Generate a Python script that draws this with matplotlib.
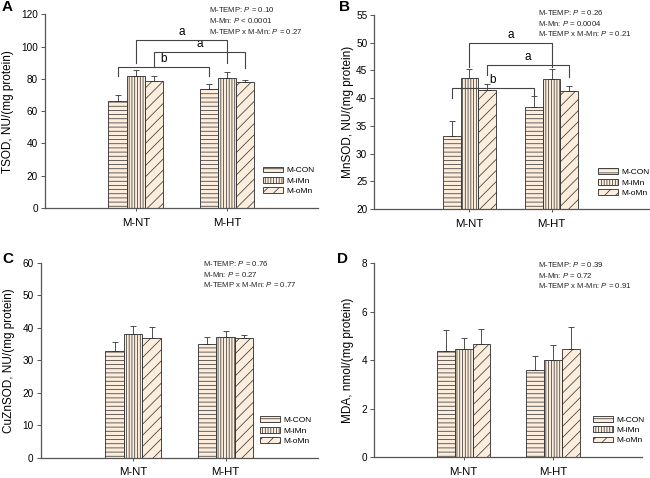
import matplotlib
matplotlib.use("Agg")
import matplotlib.pyplot as plt
from matplotlib import font_manager as fm
import numpy as np

plt.rcParams['font.family'] = ['Liberation Sans', 'DejaVu Sans']
plt.rcParams['hatch.linewidth'] = 0.5

names = {f.name for f in fm.fontManager.ttflist}
narrow = 'Liberation Sans Narrow' in names
plt.rcParams['mathtext.fontset'] = 'custom'
if narrow:
    plt.rcParams['mathtext.it'] = 'Liberation Sans Narrow:italic'
    plt.rcParams['mathtext.rm'] = 'Liberation Sans Narrow'
    p_family = ['Liberation Sans Narrow', 'DejaVu Sans']
    p_size = 6.1
else:
    plt.rcParams['mathtext.it'] = 'Liberation Sans:italic'
    plt.rcParams['mathtext.rm'] = 'Liberation Sans'
    p_family = ['Liberation Sans', 'DejaVu Sans']
    p_size = 5.6

groups = ["M-NT", "M-HT"]
series = ["M-CON", "M-iMn", "M-oMn"]

# Panel A: TSOD
tsod_con = [66.0, 73.5]
tsod_con_err = [3.7, 3.5]
tsod_imn = [81.5, 80.5]
tsod_imn_err = [4.2, 3.5]
tsod_omn = [78.5, 78.0]
tsod_omn_err = [3.2, 1.3]

# Panel B: MnSOD
mnsod_con = [33.1, 38.4]
mnsod_con_err = [2.8, 1.9]
mnsod_imn = [43.7, 43.4]
mnsod_imn_err = [1.6, 1.8]
mnsod_omn = [41.4, 41.3]
mnsod_omn_err = [1.2, 0.9]

# Panel C: CuZnSOD
cuzn_con = [32.8, 35.0]
cuzn_con_err = [3.0, 2.2]
cuzn_imn = [38.1, 37.1]
cuzn_imn_err = [2.4, 1.8]
cuzn_omn = [37.0, 37.0]
cuzn_omn_err = [3.4, 0.7]

# Panel D: MDA
mda_con = [4.38, 3.58]
mda_con_err = [0.87, 0.58]
mda_imn = [4.47, 4.00]
mda_imn_err = [0.44, 0.62]
mda_omn = [4.64, 4.46]
mda_omn_err = [0.63, 0.92]

ptext_a = ["M-TEMP: $\\it{P}$ = 0.10", "M-Mn: $\\it{P}$ < 0.0001", "M-TEMP x M-Mn: $\\it{P}$ = 0.27"]
ptext_b = ["M-TEMP: $\\it{P}$ = 0.26", "M-Mn: $\\it{P}$ = 0.0004", "M-TEMP x M-Mn: $\\it{P}$ = 0.21"]
ptext_c = ["M-TEMP: $\\it{P}$ = 0.76", "M-Mn: $\\it{P}$ = 0.27", "M-TEMP x M-Mn: $\\it{P}$ = 0.77"]
ptext_d = ["M-TEMP: $\\it{P}$ = 0.39", "M-Mn: $\\it{P}$ = 0.72", "M-TEMP x M-Mn: $\\it{P}$ = 0.91"]

# brackets: (label, series index, top, left leg end, right leg end)
brackets_a = [("a", 1, 104.0, 89.7, 89.7), ("a", 2, 96.9, 87.6, 87.0), ("b", 0, 87.6, 81.8, 81.8)]
brackets_b = [("a", 1, 50.0, 45.7, 45.7), ("a", 2, 46.0, 44.2, 43.8), ("b", 0, 41.8, 40.0, 40.3)]

face = "#FCEDDC"
hatches = ["----", "||||||", "///"]
edge = "#2a2a2a"
spine_c = "#555555"

fig = plt.figure(figsize=(6.5, 4.78), dpi=100)

panels = [
    dict(rect=[0.0688, 0.565, 0.4205, 0.405], xlim=(0, 3), width=0.2,
         vals=[(tsod_con, tsod_con_err), (tsod_imn, tsod_imn_err), (tsod_omn, tsod_omn_err)],
         ylim=(0, 120), yticks=np.arange(0, 121, 20), ylabel="TSOD, NU/(mg protein)",
         lab_x=-0.112, leg=(0.80, 0.14), ptext=ptext_a, px=209, py=10, letter="A", lx=7, ly=7,
         brackets=brackets_a),
    dict(rect=[0.5758, 0.5628, 0.4242, 0.4059], xlim=(-0.16, 3.2), width=0.215,
         vals=[(mnsod_con, mnsod_con_err), (mnsod_imn, mnsod_imn_err), (mnsod_omn, mnsod_omn_err)],
         ylim=(20, 55), yticks=np.arange(20, 56, 5), ylabel="MnSOD, NU/(mg protein)",
         lab_x=-0.075, leg=(0.81, 0.136), ptext=ptext_b, px=538, py=12.3, letter="B", lx=344, ly=7,
         brackets=brackets_b),
    dict(rect=[0.0626, 0.0425, 0.4266, 0.4073], xlim=(0, 3), width=0.2,
         vals=[(cuzn_con, cuzn_con_err), (cuzn_imn, cuzn_imn_err), (cuzn_omn, cuzn_omn_err)],
         ylim=(0, 60), yticks=np.arange(0, 61, 10), ylabel="CuZnSOD, NU/(mg protein)",
         lab_x=-0.093, leg=(0.79, 0.139), ptext=ptext_c, px=203, py=263.5, letter="C", lx=8, ly=259,
         brackets=[]),
    dict(rect=[0.5758, 0.0439, 0.4123, 0.4059], xlim=(0, 3), width=0.2,
         vals=[(mda_con, mda_con_err), (mda_imn, mda_imn_err), (mda_omn, mda_omn_err)],
         ylim=(0, 8), yticks=np.arange(0, 9, 2), ylabel="MDA, nmol/(mg protein)",
         lab_x=-0.077, leg=(0.815, 0.138), ptext=ptext_d, px=538, py=264.3, letter="D", lx=342, ly=259,
         brackets=[]),
]

W, H = 650.0, 478.0
xg = np.arange(1, len(groups) + 1)

for p in panels:
    ax = fig.add_axes(p["rect"])
    w = p["width"]
    handles = []
    for i, (v, e) in enumerate(p["vals"]):
        xs = xg + (i - 1) * w
        b = ax.bar(xs, v, width=w, color=face, edgecolor=edge, linewidth=0.6,
                   hatch=hatches[i], label=series[i], zorder=2)
        handles.append(b)
        ax.errorbar(xs, v, yerr=[np.zeros(len(e)), e], fmt="none", ecolor="#333333",
                    elinewidth=0.6, capsize=2, capthick=0.6, zorder=3)
    for br in p["brackets"]:
        lab, si, top, l1, l2 = br
        x1 = xg[0] + (si - 1) * w
        x2 = xg[1] + (si - 1) * w
        ax.plot([x1, x1, x2, x2], [l1, top, top, l2], color="#444444", lw=0.8, zorder=4,
                clip_on=False)
        ax.annotate(lab, xy=((x1 + x2) / 2, top), xytext=(0, 1.5), textcoords="offset points",
                    ha="center", va="bottom", fontsize=8.5)
    ax.set_xlim(*p["xlim"])
    ax.set_ylim(*p["ylim"])
    ax.set_yticks(p["yticks"])
    ax.set_xticks(xg)
    ax.set_xticklabels(groups, fontsize=8.2)
    ax.tick_params(axis="y", labelsize=7.2, length=3, width=0.7, color=spine_c, pad=2)
    ax.tick_params(axis="x", length=2, width=0.7, color=spine_c, pad=5)
    for s in ["top", "right"]:
        ax.spines[s].set_visible(False)
    for s in ["left", "bottom"]:
        ax.spines[s].set_color(spine_c)
        ax.spines[s].set_linewidth(0.9)
    ax.set_ylabel(p["ylabel"], fontsize=8.5)
    ax.yaxis.set_label_coords(p["lab_x"], 0.5)
    ax.legend(handles=handles, loc="center left", bbox_to_anchor=p["leg"], frameon=False,
              prop={'family': p_family, 'size': 6}, borderpad=0, borderaxespad=0,
              handlelength=2.4, handleheight=0.7, handletextpad=0.4, labelspacing=0.3)
    for k, t in enumerate(p["ptext"]):
        fig.text(p["px"] / W, 1 - (p["py"] + k * 10.7) / H, t, fontsize=p_size,
                 family=p_family, ha="left", va="center", color="#222222")
    fig.text(p["lx"] / W, 1 - p["ly"] / H, p["letter"], fontsize=11, fontweight="bold",
             ha="center", va="center")

fig.savefig("out.png", dpi=100)
